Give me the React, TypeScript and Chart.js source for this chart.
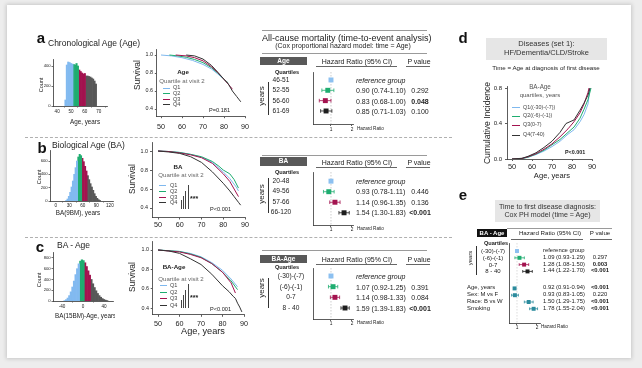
import React, { useEffect, useRef } from 'react';
import { Chart, registerables } from 'chart.js';

Chart.register(...registerables);
const FONT = "'Liberation Sans', Arial, Helvetica, sans-serif";
Chart.defaults.font.family = FONT;

// ---------- colours
const Q_COLORS = ['#7fb8ee', '#1fad70', '#a3134f', '#333333'];
const HIST_COLORS = ['#82baf0', '#1fad70', '#a3134f', '#585858'];
const MARK_COLORS = ['#8cc0f0', '#1fad70', '#a3134f', '#1e1e1e'];
const TEAL = '#2b8b9d';
const INK = '#222';

// ---------- histograms (bin centre / count, one array per quartile)
const AGE_BINS = [[46, 47, 48, 49, 50, 51], [52, 53, 54, 55], [56, 57, 58, 59, 60], [61, 62, 63, 64, 65, 66, 67, 68]];
const AGE_COUNTS = [[60, 410, 440, 435, 425, 420], [415, 410, 425, 400], [360, 345, 330, 320, 325], [300, 300, 295, 290, 280, 270, 250, 220]];
const BA_BINS = [[23, 26, 29, 32, 35, 38, 41, 44, 47], [50, 53, 56], [59, 62, 65, 68], [71, 74, 77, 80, 83, 86, 89, 92, 95, 98]];
const BA_COUNTS = [[8, 30, 70, 130, 210, 300, 400, 500, 600], [660, 700, 680], [640, 590, 520, 450], [380, 320, 260, 210, 160, 110, 70, 40, 20, 8]];
const GAP_BINS = [[-35, -32, -29, -26, -23, -20, -17, -14, -11, -8], [-5, -2, 1], [4, 7, 10, 13], [16, 19, 22, 25, 28, 31, 34, 37, 40, 43, 46]];
const GAP_COUNTS = [[8, 25, 55, 100, 170, 260, 370, 490, 600, 690], [740, 765, 750], [710, 640, 560, 480], [400, 320, 250, 190, 140, 100, 70, 45, 28, 15, 8]];

// ---------- survival curves (age / survival per quartile)
const SURV_A_X = [[50, 55, 60, 65, 70, 74, 77, 79], [54, 58, 62, 66, 70, 74, 77, 80, 82], [57, 62, 66, 70, 74, 77, 80, 83, 84], [62, 66, 70, 74, 77, 80, 82, 84, 86, 87, 88]];
const SURV_A_Y = [[1, 0.99, 0.97, 0.94, 0.895, 0.845, 0.79, 0.75], [1, 0.99, 0.975, 0.95, 0.915, 0.86, 0.8, 0.73, 0.69], [1, 0.99, 0.97, 0.935, 0.87, 0.805, 0.73, 0.65, 0.62], [1, 0.99, 0.955, 0.885, 0.81, 0.73, 0.68, 0.6, 0.54, 0.51, 0.48]];
const SURV_B_X = [[50, 55, 60, 65, 70, 75, 80, 83, 86, 87], [50, 55, 60, 65, 70, 75, 78, 80, 83, 85, 87], [50, 55, 60, 65, 70, 75, 80, 83, 85, 87], [50, 55, 60, 65, 70, 75, 80, 83, 85, 87, 88]];
const SURV_B_Y = [[1, 0.995, 0.985, 0.965, 0.935, 0.88, 0.78, 0.71, 0.62, 0.58], [1, 0.995, 0.985, 0.965, 0.94, 0.89, 0.84, 0.8, 0.76, 0.7, 0.61], [1, 0.995, 0.98, 0.96, 0.93, 0.87, 0.76, 0.68, 0.6, 0.52], [1, 0.99, 0.975, 0.94, 0.88, 0.78, 0.66, 0.58, 0.52, 0.46, 0.43]];
const SURV_C_X = [[50, 60, 65, 70, 75, 80, 84, 87], [50, 60, 65, 70, 75, 80, 84, 87], [50, 60, 65, 70, 75, 80, 84, 86], [50, 55, 60, 65, 70, 75, 80, 83, 85, 86, 87, 88, 89]];
const SURV_C_Y = [[1, 0.985, 0.965, 0.93, 0.87, 0.79, 0.7, 0.62], [1, 0.985, 0.96, 0.925, 0.86, 0.77, 0.68, 0.59], [1, 0.98, 0.955, 0.92, 0.86, 0.77, 0.66, 0.555], [1, 0.99, 0.965, 0.91, 0.85, 0.75, 0.63, 0.57, 0.52, 0.5, 0.45, 0.41, 0.36]];

// ---------- cumulative incidence (panel d)
const INC_X = [[50, 55, 58, 62, 66, 70, 74, 78, 81, 84, 86, 88, 89], [50, 55, 58, 62, 66, 70, 74, 78, 81, 84, 86, 88, 89.5], [50, 55, 58, 62, 66, 70, 74, 78, 81, 84, 86, 88, 88.5], [50, 55, 58, 62, 66, 70, 74, 77, 79, 81, 84, 86, 88, 89]];
const INC_Y = [[0, 0.005, 0.02, 0.05, 0.09, 0.14, 0.2, 0.28, 0.33, 0.42, 0.5, 0.62, 0.8], [0, 0.005, 0.02, 0.055, 0.1, 0.16, 0.22, 0.3, 0.36, 0.46, 0.56, 0.67, 0.8], [0, 0.006, 0.025, 0.06, 0.11, 0.17, 0.25, 0.34, 0.42, 0.52, 0.62, 0.75, 0.8], [0, 0.008, 0.03, 0.07, 0.13, 0.2, 0.3, 0.4, 0.42, 0.44, 0.55, 0.63, 0.72, 0.8]];
const INC_LABELS = ['Q1((-30)-(-7))', 'Q2((-6)-(-1))', 'Q3(0-7)', 'Q4(7-40)'];
const QUART_LABELS = ['Q1', 'Q2', 'Q3', 'Q4'];

// ---------- forest plots
const FA_LABELS = ['46-51', '52-55', '56-60', '61-69'];
const FA_HR = [1, 0.9, 0.83, 0.85];
const FA_LO = [1, 0.74, 0.68, 0.71];
const FA_HI = [1, 1.1, 1.0, 1.03];
const FA_P = ['', '0.292', '0.048', '0.100'];
const FB_LABELS = ['20-48', '49-56', '57-66', '66-120'];
const FB_HR = [1, 0.93, 1.14, 1.54];
const FB_LO = [1, 0.78, 0.96, 1.3];
const FB_HI = [1, 1.11, 1.35, 1.83];
const FB_P = ['', '0.446', '0.136', '<0.001'];
const FC_LABELS = ['(-30)-(-7)', '(-6)-(-1)', '0-7', '8 - 40'];
const FC_HR = [1, 1.07, 1.14, 1.59];
const FC_LO = [1, 0.92, 0.98, 1.39];
const FC_HI = [1, 1.25, 1.33, 1.83];
const FC_P = ['', '0.391', '0.084', '<0.001'];
const FE_Q_HR = [1, 1.09, 1.28, 1.44];
const FE_Q_LO = [1, 0.93, 1.08, 1.22];
const FE_Q_HI = [1, 1.29, 1.5, 1.7];
const FE_Q_P = ['', '0.297', '0.003', '<0.001'];
const FE_COV_LABELS = ['Age, years', 'Sex: M vs F', 'Race: B vs W', 'Smoking'];
const FE_COV_HR = [0.92, 0.93, 1.5, 1.78];
const FE_COV_LO = [0.91, 0.83, 1.29, 1.55];
const FE_COV_HI = [0.94, 1.05, 1.75, 2.04];
const FE_COV_P = ['<0.001', '0.220', '<0.001', '<0.001'];
const FOREST_ROWS = [0, 1, 2, 3];
const FE_COV_ROWS = [5.5, 6.5, 7.5, 8.5];

const M = 10;
const fmt1 = (v: number) => v.toFixed(1);
const fmt0 = (v: number) => String(v);
const f2 = (v: number) => v.toFixed(2);

function axis(type: string, min: number, max: number, ticks: number[], size: number, pad: number, fmt: any, extra: any = {}) {
  return {
    type, min, max, offset: false, bounds: 'data',
    afterBuildTicks: (s: any) => { s.ticks = ticks.map((v) => ({ value: v })); },
    ticks: { display: ticks.length > 0, autoSkip: false, maxRotation: 0, minRotation: 0, padding: pad, color: INK, font: { size, family: FONT }, callback: (v: any) => fmt(Number(v)) },
    grid: { display: ticks.length > 0, drawOnChartArea: false, drawTicks: true, tickLength: 2, color: '#333', lineWidth: 0.8 },
    border: { display: true, color: '#333', width: 0.8 },
    ...extra,
  };
}

function ChartCanvas({ box, build }: any) {
  const ref = useRef<HTMLCanvasElement>(null);
  const left = Math.floor(box.L - box.yW - M);
  const top = Math.floor(box.T - M);
  const width = Math.ceil(box.R + M) - left;
  const height = Math.ceil(box.B + box.xH + M) - top;
  useEffect(() => {
    const cfg = build();
    const o = cfg.options;
    o.responsive = false;
    o.maintainAspectRatio = false;
    o.animation = false;
    o.events = [];
    o.devicePixelRatio = 1;
    o.layout = { padding: { left: box.L - box.yW - left, top: box.T - top, right: left + width - box.R, bottom: top + height - box.B - box.xH } };
    o.plugins = { legend: { display: false }, tooltip: { enabled: false }, title: { display: false } };
    o.scales.x.afterFit = (s: any) => { s.height = box.xH; s.paddingLeft = 0; s.paddingRight = 0; s.paddingTop = 0; s.paddingBottom = 0; };
    o.scales.y.afterFit = (s: any) => { s.width = box.yW; s.paddingTop = 0; s.paddingBottom = 0; s.paddingLeft = 0; s.paddingRight = 0; };
    const chart = new Chart(ref.current as HTMLCanvasElement, cfg);
    return () => chart.destroy();
  }, []);
  return <canvas ref={ref} width={width} height={height} style={{ position: 'absolute', left, top, width, height }} />;
}

function histBuild(bins: number[][], counts: number[][], xr: number[], yr: number[], xt: number[], yt: number[], xPad: number) {
  return () => ({
    type: 'bar',
    data: {
      datasets: bins.map((b, i) => ({
        data: b.map((v, j) => ({ x: v, y: counts[i][j] })),
        backgroundColor: HIST_COLORS[i], borderWidth: 0, barPercentage: 1, categoryPercentage: 1, grouped: false,
      })),
    },
    options: {
      scales: {
        x: axis('linear', xr[0], xr[1], xt, 4.6, xPad, fmt0, { grid: { display: true, drawOnChartArea: false, tickLength: 1.5, color: '#333', lineWidth: 0.7 } }),
        y: axis('linear', yr[0], yr[1], yt, 4.2, 0.8, fmt0, { grid: { display: true, drawOnChartArea: false, tickLength: 1.5, color: '#333', lineWidth: 0.7 } }),
      },
    },
  });
}

function lineBuild(xs: number[][], ys: number[][], xr: number[], yr: number[], xt: number[], yt: number[], xPad: number, yPad: number, xFont: number, yFont: number) {
  return () => ({
    type: 'line',
    data: {
      datasets: xs.map((x, i) => ({
        data: x.map((v, j) => ({ x: v, y: ys[i][j] })),
        borderColor: Q_COLORS[i], borderWidth: 1, pointRadius: 0, tension: 0, fill: false, order: 3 - i,
      })),
    },
    options: {
      scales: {
        x: axis('linear', xr[0], xr[1], xt, xFont, xPad, fmt0),
        y: axis('linear', yr[0], yr[1], yt, yFont, yPad, fmt1),
      },
    },
  });
}

function forestBuild(hr: number[][], lo: number[][], hi: number[][], cols: string[][], rows: number[][], xr: number[], yr: number[], capR: number, markR: number, xPad: number, refColor: string) {
  return () => {
    const ds: any[] = [];
    ds.push({ type: 'line', data: [{ x: 1, y: yr[0] }, { x: 1, y: yr[1] }], borderColor: refColor, borderWidth: 0.7, borderDash: [1.5, 1.5], pointRadius: 0, order: 2, clip: false });
    hr.forEach((g, gi) => {
      g.forEach((h, i) => {
        if (lo[gi][i] !== hi[gi][i]) {
          ds.push({
            type: 'line', data: [{ x: lo[gi][i], y: rows[gi][i] }, { x: hi[gi][i], y: rows[gi][i] }],
            borderColor: cols[gi][i], borderWidth: 0.8, pointStyle: 'line', rotation: 90, pointRadius: capR,
            pointBorderColor: cols[gi][i], pointBorderWidth: 0.8, pointBackgroundColor: cols[gi][i], order: 1, clip: false,
          });
        }
      });
      ds.push({ type: 'scatter', data: g.map((h, i) => ({ x: h, y: rows[gi][i] })), pointStyle: 'rect', pointRadius: markR, pointBackgroundColor: cols[gi], backgroundColor: cols[gi], pointBorderWidth: 0, borderWidth: 0, order: 0, clip: false });
    });
    return {
      type: 'scatter',
      data: { datasets: ds },
      options: {
        scales: {
          x: axis('logarithmic', xr[0], xr[1], [1, 2], 4.8, xPad, fmt0),
          y: axis('linear', yr[0], yr[1], [], 5, 0, fmt0, { reverse: true }),
        },
      },
    };
  };
}

function Tx({ x, y, s, size = 7, b = false, it = false, c = INK, a = 'l', rot = false }: any) {
  const tx = a === 'l' ? '0' : a === 'c' ? '-50%' : '-100%';
  return (
    <div style={{ position: 'absolute', left: x, top: y, fontSize: size, lineHeight: 1, fontWeight: b ? 700 : 400, fontStyle: it ? 'italic' : 'normal', color: c, whiteSpace: 'nowrap', filter: 'grayscale(1)', transform: rot ? 'translate(-50%,-50%) rotate(-90deg)' : `translate(${tx},-50%)` }}>{s}</div>
  );
}
function HL({ x1, x2, y, c = '#9a9a9a', w = 0.8, dash = false }: any) {
  return <div style={{ position: 'absolute', left: x1, top: y - w / 2, width: x2 - x1, height: 0, borderTop: `${w}px ${dash ? 'dashed' : 'solid'} ${c}` }} />;
}
function VL({ x, y1, y2, c = '#333', w = 0.8 }: any) {
  return <div style={{ position: 'absolute', left: x - w / 2, top: y1, width: 0, height: y2 - y1, borderLeft: `${w}px solid ${c}` }} />;
}
function Box({ x, y, w, h, bg, children }: any) {
  return <div style={{ position: 'absolute', left: x, top: y, width: w, height: h, background: bg, filter: 'grayscale(1)', display: 'flex', flexDirection: 'column', alignItems: 'center', justifyContent: 'center' }}>{children}</div>;
}

const isSig = (p: string) => p.startsWith('<') || (p !== '' && parseFloat(p) < 0.05);

function ForestText({ boxLabel, headY, quartY, row0, dy, labelX, labels, hr, lo, hi, pv, yearsY, yl1, yl2, hrY, lineY }: any) {
  return (
    <>
      <HL x1={262} x2={427} y={lineY} />
      <Box x={260} y={headY - 4.3} w={47} h={8.6} bg="#595959"><span style={{ color: '#fff', fontWeight: 700, fontSize: 6.5, lineHeight: 1 }}>{boxLabel}</span></Box>
      <Tx x={357} y={headY} s="Hazard Ratio (95% CI)" size={7} a="c" />
      <Tx x={419} y={headY} s="P value" size={7} a="c" />
      <HL x1={316} x2={397} y={headY + 5.5} c="#666" />
      <HL x1={406} x2={430} y={headY + 5.5} c="#666" />
      <Tx x={287} y={quartY} s="Quartiles" size={5.6} b a="c" />
      {labels.map((l: string, i: number) => (
        <React.Fragment key={i}>
          <Tx x={labelX} y={row0 + i * dy} s={l} size={6.6} a="c" />
          <Tx x={356} y={row0 + i * dy} s={i === 0 ? 'reference group' : `${f2(hr[i])} (${f2(lo[i])}-${f2(hi[i])})`} size={7} it={i === 0} />
          <Tx x={420} y={row0 + i * dy} s={pv[i]} size={7} b={isSig(pv[i])} a="c" />
        </React.Fragment>
      ))}
      <Tx x={262} y={yearsY} s="years" size={8} rot />
      <VL x={268} y1={yl1} y2={yl2} c="#333" w={0.9} />
      <Tx x={357} y={hrY} s="Hazard Ratio" size={4.6} />
    </>
  );
}

function SurvLegend({ title, tx, ty, sx, sy, rows, lx, txX }: any) {
  return (
    <>
      <Tx x={tx} y={ty} s={title} size={6.2} b a="c" />
      <Tx x={sx} y={sy} s="Quartile at visit 2" size={6.1} c="#666" a="c" />
      {rows.map((y: number, i: number) => (
        <React.Fragment key={i}>
          <HL x1={lx} x2={lx + 7} y={y} c={Q_COLORS[i]} w={1.2} />
          <Tx x={txX} y={y} s={QUART_LABELS[i]} size={5.6} c="#444" />
        </React.Fragment>
      ))}
    </>
  );
}

function SigBars({ bottom, tops, sy }: any) {
  const xs = [181, 183.3, 185.6, 188];
  return (
    <>
      {xs.map((x, i) => <VL key={i} x={x} y1={tops[i]} y2={bottom} c="#444" w={0.8} />)}
      <Tx x={190} y={sy} s="***" size={7} b />
    </>
  );
}

const BOX_HA = { L: 53, T: 59, R: 107, B: 106, yW: 14, xH: 10 };
const BOX_HB = { L: 50, T: 150, R: 113, B: 201, yW: 14, xH: 10 };
const BOX_HC = { L: 53, T: 252, R: 113, B: 301, yW: 14, xH: 10 };
const BOX_SA = { L: 156.8, T: 49.6, R: 245, B: 116.2, yW: 16, xH: 16 };
const BOX_SB = { L: 152, T: 142.5, R: 245, B: 217.5, yW: 16, xH: 12 };
const BOX_SC = { L: 152.7, T: 241.7, R: 244, B: 314.8, yW: 16, xH: 12 };
const BOX_D = { L: 507, T: 86.7, R: 592, B: 159, yW: 16, xH: 12 };
const BOX_FA = { L: 313, T: 72, R: 353, B: 124, yW: 0, xH: 9 };
const BOX_FB = { L: 313, T: 172, R: 353, B: 225, yW: 0, xH: 9 };
const BOX_FC = { L: 313, T: 268, R: 353, B: 319, yW: 0, xH: 9 };
const BOX_FE = { L: 509, T: 243, R: 540, B: 323, yW: 0, xH: 9 };
const D_LEGEND_Y = [107.5, 116, 125, 135];

export default function App() {
  const eRowY = (v: number) => 251 + v * 6.8;
  return (
    <div style={{ position: 'absolute', left: 0, top: 0, width: 642, height: 368, background: '#ededed', overflow: 'hidden', fontFamily: FONT, color: INK }}>
      <div style={{ position: 'absolute', left: 7, top: 5, width: 624, height: 353, background: '#fff', boxShadow: '0 0 4px 1px rgba(0,0,0,0.16)' }} />

      {/* separators */}
      <HL x1={25} x2={452} y={137} c="#b0b0b0" w={0.8} dash />
      <HL x1={25} x2={452} y={237} c="#b0b0b0" w={0.8} dash />

      {/* ---------- panel a */}
      <Tx x={41} y={37} s="a" size={15} b c="#111" a="c" />
      <Tx x={48} y={43} s="Chronological Age (Age)" size={8.5} />
      <ChartCanvas box={BOX_HA} build={histBuild(AGE_BINS, AGE_COUNTS, [37, 76], [0, 470], [40, 50, 60, 70], [0, 200, 400], 1.2)} />
      <Tx x={42} y={85} s="Count" size={5.5} rot />
      <Tx x={85} y={122} s="Age, years" size={6.3} a="c" />
      <ChartCanvas box={BOX_SA} build={lineBuild(SURV_A_X, SURV_A_Y, [48, 90], [0.32, 1.06], [50, 60, 70, 80, 90], [0.4, 0.6, 0.8, 1.0], 5, 1.8, 7.2, 5.4)} />
      <Tx x={137} y={75} s="Survival" size={8.4} rot />
      <SurvLegend title="Age" tx={183} ty={72} sx={182} sy={81} rows={[88.3, 94, 99.5, 105]} lx={163} txX={173} />
      <Tx x={209} y={110.5} s="P=0.181" size={5.6} />

      <Tx x={262} y={38} s="All-cause mortality (time-to-event analysis)" size={9} />
      <Tx x={343} y={46} s="(Cox proportional hazard model: time = Age)" size={6.9} a="c" />
      <HL x1={262} x2={427} y={30} />
      <ForestText boxLabel="Age" headY={61} quartY={73} row0={80} dy={10.33} labelX={281} labels={FA_LABELS} hr={FA_HR} lo={FA_LO} hi={FA_HI} pv={FA_P} yearsY={96} yl1={82} yl2={115} hrY={129} lineY={53} />
      <ChartCanvas box={BOX_FA} build={forestBuild([FA_HR], [FA_LO], [FA_HI], [MARK_COLORS], [FOREST_ROWS], [0.552, 2.07], [-0.77, 4.26], 1.8, 3.5, 0.3, '#b8b8b8')} />

      {/* ---------- panel b */}
      <Tx x={42} y={147} s="b" size={15} b c="#111" a="c" />
      <Tx x={52} y={145} s="Biological Age (BA)" size={8.5} />
      <ChartCanvas box={BOX_HB} build={histBuild(BA_BINS, BA_COUNTS, [-13, 127], [0, 765], [0, 30, 60, 90, 120], [0, 200, 400, 600], 0.2)} />
      <Tx x={40} y={177} s="Count" size={5.5} rot />
      <Tx x={78} y={213} s="BA(9BM), years" size={6.3} a="c" />
      <ChartCanvas box={BOX_SB} build={lineBuild(SURV_B_X, SURV_B_Y, [47.2, 90], [0.3, 1.09], [50, 60, 70, 80, 90], [0.4, 0.6, 0.8, 1.0], 1, 2, 7.2, 5.4)} />
      <Tx x={132} y={179} s="Survival" size={8.4} rot />
      <SurvLegend title="BA" tx={178} ty={167} sx={181} sy={175} rows={[186, 192, 197.5, 203]} lx={159} txX={170} />
      <SigBars bottom={209} tops={[200, 196, 191, 185]} sy={198} />
      <Tx x={210} y={210} s="P<0.001" size={5.6} />

      <ForestText boxLabel="BA" headY={161.5} quartY={173} row0={181} dy={10.33} labelX={281} labels={FB_LABELS} hr={FB_HR} lo={FB_LO} hi={FB_HI} pv={FB_P} yearsY={194} yl1={178} yl2={213} hrY={229} lineY={155} />
      <ChartCanvas box={BOX_FB} build={forestBuild([FB_HR], [FB_LO], [FB_HI], [MARK_COLORS], [FOREST_ROWS], [0.552, 2.07], [-0.87, 4.16], 1.8, 3.5, 0, '#b8b8b8')} />

      {/* ---------- panel c */}
      <Tx x={40} y={246} s="c" size={15} b c="#111" a="c" />
      <Tx x={57} y={245} s="BA - Age" size={8.5} />
      <ChartCanvas box={BOX_HC} build={histBuild(GAP_BINS, GAP_COUNTS, [-57, 57], [0, 910], [-40, 0, 40], [0, 200, 400, 600, 800], 1.2)} />
      <Tx x={40} y={280} s="Count" size={5.5} rot />
      <div style={{ position: 'absolute', left: 55, top: 311, width: 60, height: 10, overflow: 'hidden' }}>
        <Tx x={0} y={5} s="BA(15BM)-Age, years" size={6.3} />
      </div>
      <ChartCanvas box={BOX_SC} build={lineBuild(SURV_C_X, SURV_C_Y, [47.5, 90], [0.33, 1.086], [50, 60, 70, 80, 90], [0.4, 0.6, 0.8, 1.0], 2.6, 1.7, 7.2, 5.4)} />
      <Tx x={132} y={277} s="Survival" size={8.4} rot />
      <Tx x={203} y={332} s="Age, years" size={9.2} a="c" />
      <SurvLegend title="BA-Age" tx={174} ty={267} sx={181} sy={279} rows={[286, 292.5, 299, 306]} lx={160} txX={170} />
      <SigBars bottom={308} tops={[300, 295, 290, 284]} sy={297} />
      <Tx x={210} y={310} s="P<0.001" size={5.6} />

      <ForestText boxLabel="BA-Age" headY={259} quartY={268} row0={276} dy={10.67} labelX={291} labels={FC_LABELS} hr={FC_HR} lo={FC_LO} hi={FC_HI} pv={FC_P} yearsY={288} yl1={278} yl2={308} hrY={323} lineY={250} />
      <ChartCanvas box={BOX_FC} build={forestBuild([FC_HR], [FC_LO], [FC_HI], [MARK_COLORS], [FOREST_ROWS], [0.552, 2.07], [-0.75, 4.03], 1.8, 3.5, 0, '#b8b8b8')} />

      {/* ---------- panel d */}
      <Tx x={463} y={37} s="d" size={15} b c="#111" a="c" />
      <Box x={486} y={38} w={121} h={22} bg="#e6e6e6">
        <span style={{ fontSize: 7.5, lineHeight: 1.15, color: '#333' }}>Diseases (set 1):</span>
        <span style={{ fontSize: 7.5, lineHeight: 1.15, color: '#333' }}>HF/Dementia/CLD/Stroke</span>
      </Box>
      <Tx x={546} y={68} s="Time = Age at diagnosis of first disease" size={6.2} a="c" />
      <ChartCanvas box={BOX_D} build={lineBuild(INC_X, INC_Y, [47.5, 90], [0, 0.815], [50, 60, 70, 80, 90], [0, 0.4, 0.8], 1.3, 3, 7.4, 6)} />
      <Tx x={487} y={123} s="Cumulative Incidence" size={8.6} rot />
      <Tx x={552} y={176} s="Age, years" size={7.6} a="c" />
      <Tx x={540} y={87} s="BA-Age" size={6.3} c="#555" a="c" />
      <Tx x={540} y={95} s="quartiles, years" size={6} c="#555" a="c" />
      {INC_LABELS.map((l, i) => (
        <React.Fragment key={i}>
          <HL x1={512} x2={520} y={D_LEGEND_Y[i]} c={Q_COLORS[i]} w={1} />
          <Tx x={523} y={D_LEGEND_Y[i]} s={l} size={5.4} c="#444" />
        </React.Fragment>
      ))}
      <Tx x={565} y={153} s="P<0.001" size={5.4} b />

      {/* ---------- panel e */}
      <Tx x={463} y={194} s="e" size={15} b c="#111" a="c" />
      <Box x={495} y={200} w={105} h={22} bg="#e6e6e6">
        <span style={{ fontSize: 7.1, lineHeight: 1.2, color: '#333' }}>Time to first disease diagnosis:</span>
        <span style={{ fontSize: 7.1, lineHeight: 1.2, color: '#333' }}>Cox PH model (time = Age)</span>
      </Box>
      <HL x1={507} x2={612} y={228.5} />
      <Box x={477} y={229} w={30} h={7.5} bg="#111"><span style={{ color: '#fff', fontWeight: 700, fontSize: 6, lineHeight: 1 }}>BA - Age</span></Box>
      <Tx x={550} y={233} s="Hazard Ratio (95% CI)" size={6.2} a="c" />
      <Tx x={600} y={233} s="P value" size={6.2} a="c" />
      <HL x1={511} x2={583} y={239} c="#666" />
      <HL x1={590} x2={612} y={239} c="#666" />
      <Tx x={496} y={243.5} s="Quartiles" size={5.6} b a="c" />
      {FC_LABELS.map((l, i) => (
        <React.Fragment key={i}>
          <Tx x={493} y={eRowY(FOREST_ROWS[i])} s={l} size={6} a="c" />
          <Tx x={543} y={eRowY(FOREST_ROWS[i])} s={i === 0 ? 'reference group' : `${f2(FE_Q_HR[i])} (${f2(FE_Q_LO[i])}-${f2(FE_Q_HI[i])})`} size={5.9} />
          <Tx x={600} y={eRowY(FOREST_ROWS[i])} s={FE_Q_P[i]} size={5.9} b={isSig(FE_Q_P[i])} a="c" />
        </React.Fragment>
      ))}
      {FE_COV_LABELS.map((l, i) => (
        <React.Fragment key={i}>
          <Tx x={467} y={eRowY(FE_COV_ROWS[i])} s={l} size={5.9} />
          <Tx x={543} y={eRowY(FE_COV_ROWS[i])} s={`${f2(FE_COV_HR[i])} (${f2(FE_COV_LO[i])}-${f2(FE_COV_HI[i])})`} size={5.9} />
          <Tx x={600} y={eRowY(FE_COV_ROWS[i])} s={FE_COV_P[i]} size={5.9} b={isSig(FE_COV_P[i])} a="c" />
        </React.Fragment>
      ))}
      <Tx x={470} y={258} s="years" size={6} rot />
      <VL x={476} y1={246} y2={275} c="#333" w={0.8} />
      <Tx x={541} y={326.5} s="Hazard Ratio" size={4.6} />
      <ChartCanvas box={BOX_FE} build={forestBuild([FE_Q_HR, FE_COV_HR], [FE_Q_LO, FE_COV_LO], [FE_Q_HI, FE_COV_HI], [MARK_COLORS, [TEAL, TEAL, TEAL, TEAL]], [FOREST_ROWS, FE_COV_ROWS], [0.758, 2.22], [-1.18, 10.59], 1.4, 2.8, 0, '#cccccc')} />
    </div>
  );
}
